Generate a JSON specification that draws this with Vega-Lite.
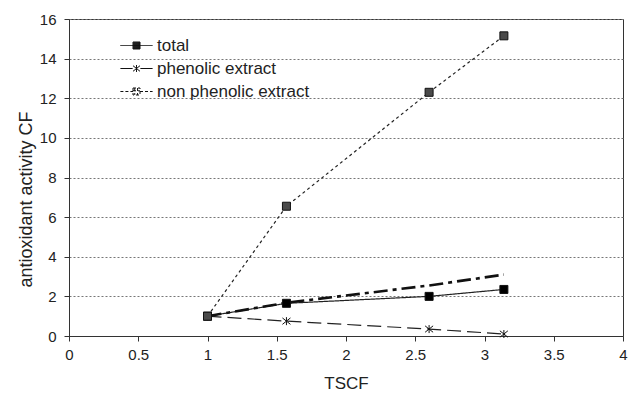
{
  "$schema": "https://vega.github.io/schema/vega-lite/v6.json",
  "width": 554,
  "height": 317,
  "autosize": {"type": "none"},
  "padding": {"left": 69, "top": 19, "right": 6, "bottom": 59},
  "background": "white",
  "config": {
    "view": {"stroke": "#333", "strokeWidth": 1},
    "font": "Liberation Sans",
    "axis": {
      "domainColor": "#333",
      "tickColor": "#333",
      "labelColor": "#222",
      "titleColor": "#222",
      "labelFont": "Liberation Sans",
      "titleFont": "Liberation Sans",
      "labelFontSize": 15,
      "titleFontSize": 17,
      "titleFontWeight": "normal",
      "tickSize": 5
    },
    "legend": {"labelFont": "Liberation Sans"}
  },
  "datasets": {
    "series": [
      {"series": "total", "tscf": 1.0, "cf": 1.0},
      {"series": "total", "tscf": 1.57, "cf": 1.65},
      {"series": "total", "tscf": 2.6, "cf": 2.0},
      {"series": "total", "tscf": 3.14, "cf": 2.35},
      {"series": "phenolic extract", "tscf": 1.0, "cf": 1.0},
      {"series": "phenolic extract", "tscf": 1.57, "cf": 0.75},
      {"series": "phenolic extract", "tscf": 2.6, "cf": 0.35},
      {"series": "phenolic extract", "tscf": 3.14, "cf": 0.1},
      {"series": "non phenolic extract", "tscf": 1.0, "cf": 1.0},
      {"series": "non phenolic extract", "tscf": 1.57, "cf": 6.55},
      {"series": "non phenolic extract", "tscf": 2.6, "cf": 12.3},
      {"series": "non phenolic extract", "tscf": 3.14, "cf": 15.15}
    ],
    "extra": [
      {"tscf": 1.0, "cf": 1.0},
      {"tscf": 1.57, "cf": 1.68},
      {"tscf": 2.6, "cf": 2.55},
      {"tscf": 3.14, "cf": 3.1}
    ],
    "legend": [
      {"series": "total", "tscf": 1.0, "cf": 1.0},
      {"series": "phenolic extract", "tscf": 1.0, "cf": 1.0},
      {"series": "non phenolic extract", "tscf": 1.0, "cf": 1.0}
    ]
  },
  "encoding": {
    "x": {"field": "tscf", "type": "quantitative", "scale": {"domain": [0, 4], "nice": false},
          "axis": {"title": "TSCF", "values": [0, 0.5, 1, 1.5, 2, 2.5, 3, 3.5, 4], "format": "~g", "grid": false, "labelFlush": false, "labelPadding": 6, "titlePadding": 13}},
    "y": {"field": "cf", "type": "quantitative", "scale": {"domain": [0, 16], "nice": false},
          "axis": {"title": "antioxidant activity CF", "values": [0, 2, 4, 6, 8, 10, 12, 14, 16], "format": "~g", "labelOverlap": false, "grid": true, "gridDash": [2, 2], "gridColor": "#777", "labelPadding": 8, "titleX": -43, "titleY": 180, "titleAngle": -90, "titleAlign": "center", "titleBaseline": "middle", "titleFontSize": 18}}
  },
  "layer": [
    {
      "data": {"name": "series"},
      "mark": {"type": "line", "stroke": "#222", "strokeWidth": 1.2},
      "encoding": {
        "detail": {"field": "series"},
        "strokeDash": {"field": "series", "type": "nominal",
          "scale": {"domain": ["total", "phenolic extract", "non phenolic extract"], "range": [[1, 0], [14, 6], [3, 3]]},
          "legend": null}
      }
    },
    {
      "data": {"name": "extra"},
      "mark": {"type": "line", "stroke": "#111", "strokeWidth": 2.6, "strokeDash": [14, 5, 4, 5]},
      "encoding": {}
    },
    {
      "data": {"name": "series"},
      "mark": {"type": "point", "filled": false, "stroke": "#111", "strokeWidth": 1, "size": 64, "opacity": 1},
      "encoding": {
        "shape": {"field": "series", "type": "nominal",
          "scale": {"domain": ["total", "phenolic extract", "non phenolic extract"], "range": ["square", "M-1,-0.8L1,0.8M-1,0.8L1,-0.8M0,-1V1", "square"]},
          "legend": null},
        "fill": {"field": "series", "type": "nominal",
          "scale": {"domain": ["total", "phenolic extract", "non phenolic extract"], "range": ["#000000", "transparent", "#4a4a4a"]},
          "legend": null}
      }
    },
    {
      "data": {"name": "legend"},
      "mark": {"type": "point", "filled": false, "stroke": "#111", "strokeWidth": 1, "size": 0},
      "encoding": {
        "shape": {"field": "series", "type": "nominal",
          "scale": {"domain": ["total", "phenolic extract", "non phenolic extract"],
                    "range": ["M-2.3,0H2.3M-0.5,-0.5H0.5V0.5H-0.5ZM-0.5,-0.35H0.5M-0.5,-0.2H0.5M-0.5,-0.05H0.5M-0.5,0.1H0.5M-0.5,0.25H0.5M-0.5,0.4H0.5M-0.35,-0.5V0.5M-0.2,-0.5V0.5M-0.05,-0.5V0.5M0.1,-0.5V0.5M0.25,-0.5V0.5M0.4,-0.5V0.5", "M-2.3,0H-0.55M0.55,0H2.3M-0.5,-0.4L0.5,0.4M-0.5,0.4L0.5,-0.4M0,-0.5V0.5", "M-2.3,0H-0.5M0.5,0H2.3M-0.5,-0.5H0.5V0.5H-0.5ZM-0.25,-0.5V0.5M0.15,-0.5V0.5M-0.5,-0.1H0.5"]},
          "legend": {"title": null, "orient": "none", "legendX": 59, "legendY": 18, "padding": 0,
                     "symbolSize": 196, "symbolOpacity": 1, "symbolStrokeWidth": 1, "symbolStrokeColor": "#111", "symbolFillColor": "transparent",
                     "labelFontSize": 17, "labelColor": "#222", "labelOffset": 12, "rowPadding": 5, "labelLimit": 300}},
        "strokeDash": {"field": "series", "type": "nominal",
          "scale": {"domain": ["total", "phenolic extract", "non phenolic extract"], "range": [[1, 0], [14, 3], [3, 2]]},
          "legend": {"title": null, "orient": "none", "legendX": 59, "legendY": 18, "padding": 0,
                     "symbolSize": 196, "symbolOpacity": 1, "symbolStrokeWidth": 1, "symbolStrokeColor": "#111", "symbolFillColor": "transparent",
                     "labelFontSize": 17, "labelColor": "#222", "labelOffset": 12, "rowPadding": 5, "labelLimit": 300}}
      }
    }
  ],
  "resolve": {"scale": {"shape": "independent", "fill": "independent", "strokeDash": "independent"}}
}
